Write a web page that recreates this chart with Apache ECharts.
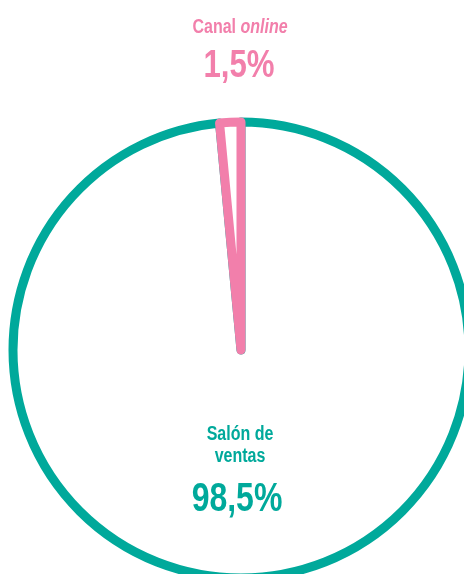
<!DOCTYPE html>
<html>
<head>
<meta charset="utf-8">
<script src="https://cdn.jsdelivr.net/npm/echarts@6/dist/echarts.min.js"></script>
<style>
  html, body { margin: 0; padding: 0; background: #fff; }
  #pie { width: 464px; height: 574px; }
</style>
</head>
<body>
<div id="pie"></div>
<script>
// data
const categories = ["Salón de ventas", "Canal online"];
const shares = [98.5, 1.5];
const colors = ["#00a99b", "#f27fab"];

// Liberation Sans squeezed horizontally to look like the condensed face
const font = '"Liberation Sans", Arial, sans-serif';
const squeeze = 0.8;
const pct = (v) => v.toFixed(1).replace(".", ",") + "%";

var chart = echarts.init(document.getElementById("pie"));

let option = {
  animation: false,
  backgroundColor: "#fff",
  series: [
    {
      type: "pie",
      center: [241, 350],
      radius: [0, 228],
      startAngle: 90,
      clockwise: true,
      silent: true,
      z: 1,
      label: { show: false },
      labelLine: { show: false },
      emphasis: { disabled: true },
      data: categories.map((name, i) => ({
        name: name,
        value: shares[i],
        itemStyle: {
          color: "#fff",
          borderColor: colors[i],
          borderWidth: 9,
          borderJoin: "round",
        },
      })),
    },
  ],
  graphic: [
    {
      type: "text",
      x: 240,
      y: 27,
      z: 10,
      scaleX: squeeze,
      style: {
        // "Canal online" with the second word in italics
        text: "{a|" + categories[1].split(" ")[0] + " }{b|" + categories[1].split(" ")[1] + "}",
        align: "center",
        verticalAlign: "middle",
        rich: {
          a: { fontFamily: font, fontWeight: "bold", fontSize: 20, fill: colors[1] },
          b: { fontFamily: font, fontWeight: "bold", fontStyle: "italic", fontSize: 20, fill: colors[1] },
        },
      },
    },
    {
      type: "text",
      x: 239,
      y: 66,
      z: 10,
      scaleX: squeeze,
      style: {
        text: pct(shares[1]),
        align: "center",
        verticalAlign: "middle",
        fontFamily: font,
        fontWeight: "bold",
        fontSize: 39,
        fill: colors[1],
      },
    },
    {
      type: "text",
      x: 240,
      y: 445,
      z: 10,
      scaleX: squeeze,
      style: {
        text: "Salón de\nventas",
        align: "center",
        verticalAlign: "middle",
        fontFamily: font,
        fontWeight: "bold",
        fontSize: 20,
        lineHeight: 22,
        fill: colors[0],
      },
    },
    {
      type: "text",
      x: 237,
      y: 500,
      z: 10,
      scaleX: squeeze,
      style: {
        text: pct(shares[0]),
        align: "center",
        verticalAlign: "middle",
        fontFamily: font,
        fontWeight: "bold",
        fontSize: 40,
        fill: colors[0],
      },
    },
  ],
};

chart.setOption(option);
</script>
</body>
</html>
